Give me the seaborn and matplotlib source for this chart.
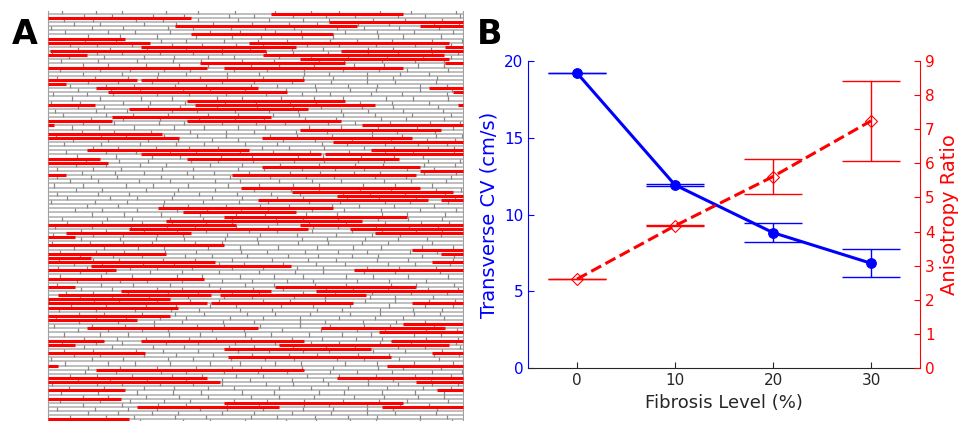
import numpy as np
import matplotlib
matplotlib.use('Agg')
import matplotlib.pyplot as plt
import seaborn as sns

# ---- Panel A: tissue mesh with fibrotic barriers (red) ----
# red barrier segments: (row, start, end), x in px from left edge of tissue
barrier_rows = [0, 1, 2, 3, 3, 5, 6, 7, 7, 8, 8, 9, 9, 10, 10, 11, 12, 12, 13, 13,
                16, 16, 17, 18, 18, 19, 19, 21, 22, 22, 22, 23, 25, 26, 26, 27, 27,
                28, 29, 30, 30, 31, 33, 33, 34, 34, 35, 35, 36, 37, 38, 39, 39,
                42, 43, 44, 45, 45, 47, 48, 49, 50, 51, 51, 52, 52, 53, 53, 54, 56,
                57, 58, 58, 59, 60, 60, 61, 62, 62, 64, 66, 66, 67, 67, 68, 68, 69,
                70, 70, 70, 71, 73, 74, 75, 76, 76, 77, 79, 79, 79, 80, 80, 81, 82, 82,
                83, 85, 85, 86, 88, 88, 89, 89, 91, 91, 93, 94, 95, 95, 98]
barrier_start = [222, 0, 280, 127, 371, 143, 0, 0, 201, 93, 396, 2, 292, 0, 214, 251, 152, 396, 0, 176,
                 0, 93, 0, 48, 380, 60, 404, 139, 0, 147, 409, 81, 64, 0, 139, 0, 313,
                 251, 0, 0, 213, 284, 39, 322, 93, 276, 0, 139, 0, 213, 371, 0, 184,
                 193, 243, 288, 209, 392, 110, 135, 176, 118, 0, 251, 81, 301, 18, 326, 0, 0,
                 363, 0, 392, 0, 0, 383, 43, 0, 305, 0, 0, 226, 73, 267, 10, 172, 0,
                 0, 163, 363, 0, 0, 0, 354, 39, 272, 330, 0, 93, 342, 0, 230, 176, 0, 383,
                 180, 0, 338, 48, 0, 288, 0, 367, 0, 388, 0, 176, 89, 333, 0]
barrier_end = [354, 143, 414, 308, 414, 284, 77, 102, 400, 247, 414, 217, 414, 39, 395, 400, 296, 414, 159, 354,
               89, 255, 18, 209, 414, 238, 414, 296, 47, 326, 414, 259, 222, 64, 292, 6, 414,
               392, 114, 131, 363, 414, 201, 414, 272, 414, 52, 350, 60, 371, 414, 18, 367,
               371, 404, 414, 379, 414, 284, 247, 358, 313, 188, 414, 259, 414, 143, 414, 27, 176,
               414, 118, 414, 43, 167, 414, 242, 68, 414, 156, 27, 367, 222, 414, 163, 317, 122,
               159, 304, 414, 130, 122, 89, 414, 209, 396, 414, 56, 255, 414, 27, 400, 322, 97, 414,
               342, 10, 414, 255, 159, 414, 172, 414, 77, 414, 73, 354, 230, 414, 81]

# typical cell lengths (px) and row offsets read from the mesh
cell_lengths = [36, 28, 41, 31, 45, 25, 38, 33, 29, 43, 27, 35, 40, 30, 34, 26, 44, 32, 37, 39]
row_offsets = [0, 17, 8, 25, 12, 30, 4, 21, 14, 27, 6, 19, 10, 23, 2, 16]

tissue_width = 414
n_rows = 99

# ---- Panel B data ----
fibrosis = [0, 10, 20, 30]
cv_mean = [19.2, 11.92, 8.82, 6.83]
cv_err = [0.0, 0.08, 0.63, 0.9]
ar_mean = [2.61, 4.17, 5.61, 7.24]
ar_err = [0.0, 0.02, 0.5, 1.17]

sns.set_style('ticks')
plt.rcParams['font.family'] = ['DejaVu Sans']

fig = plt.figure(figsize=(9.58, 4.21), dpi=100)

# Panel A
axA = fig.add_axes([47 / 958, 0, 417 / 958, 410 / 421])
axA.hlines(np.arange(n_rows), 0, tissue_width, color='#b3b3b3', lw=1.2, zorder=1)
vx, vy0, vy1 = [], [], []
for r in range(-1, n_rows):
    x = -row_offsets[r % len(row_offsets)]
    idx = (r * 7) % len(cell_lengths)
    while x < tissue_width:
        x += cell_lengths[idx % len(cell_lengths)]
        idx += 1
        if 0 < x < tissue_width:
            vx.append(x)
            vy0.append(r)
            vy1.append(r + 1)
axA.vlines(vx, vy0, vy1, color='#888888', lw=0.9, zorder=2)
axA.vlines([0, tissue_width], -1, n_rows, color='#a0a0a0', lw=0.8, zorder=2)
axA.hlines(barrier_rows, barrier_start, barrier_end, color='red', lw=2.2, zorder=3)
axA.set_xlim(-1, tissue_width + 1)
axA.set_ylim(98.4, -0.65)
axA.axis('off')

# Panel B
axB = fig.add_axes([528 / 958, 1 - 368.3 / 421, 392 / 958, 307.6 / 421])
sns.lineplot(x=fibrosis, y=cv_mean, ax=axB, color='blue', lw=2.2, marker='o',
             markersize=7, markeredgecolor='blue', errorbar=None, zorder=3)
axB.errorbar(fibrosis, cv_mean, yerr=cv_err, fmt='none', ecolor='blue',
             elinewidth=1, capsize=21, capthick=1)
axB.set_xlim(-5, 35)
axB.set_ylim(0, 20)
axB.set_xticks([0, 10, 20, 30])
axB.set_yticks([0, 5, 10, 15, 20])
axB.set_xlabel('Fibrosis Level (%)', fontsize=13, color='#262626')
axB.set_ylabel('Transverse CV (cm/s)', fontsize=14, color='blue')
axB.tick_params(axis='y', colors='blue', direction='in', labelsize=11, length=4)
axB.tick_params(axis='x', colors='#262626', direction='in', labelsize=11, length=4)
axB.spines['top'].set_visible(False)
axB.spines['right'].set_visible(False)
axB.spines['left'].set_color('blue')
axB.spines['bottom'].set_color('#262626')

axR = axB.twinx()
sns.lineplot(x=fibrosis, y=ar_mean, ax=axR, color='red', lw=2.2, linestyle='--',
             dashes=(4, 2.5), marker='D', markersize=6, markerfacecolor='none',
             markeredgecolor='red', markeredgewidth=0.8, errorbar=None)
axR.errorbar(fibrosis, ar_mean, yerr=ar_err, fmt='none', ecolor='red',
             elinewidth=1, capsize=21, capthick=1)
axR.set_ylim(0, 9)
axR.set_yticks(range(10))
axR.set_ylabel('Anisotropy Ratio', fontsize=14, color='red')
axR.tick_params(axis='y', colors='red', direction='in', labelsize=11, length=4)
for s in ['top', 'left', 'bottom']:
    axR.spines[s].set_visible(False)
axR.spines['right'].set_color('red')

fig.text(25 / 958, 1 - 35 / 421, 'A', fontsize=24, fontweight='bold', color='black',
         ha='center', va='center')
fig.text(490 / 958, 1 - 35 / 421, 'B', fontsize=24, fontweight='bold', color='black',
         ha='center', va='center')

fig.savefig('out.png', dpi=100)
